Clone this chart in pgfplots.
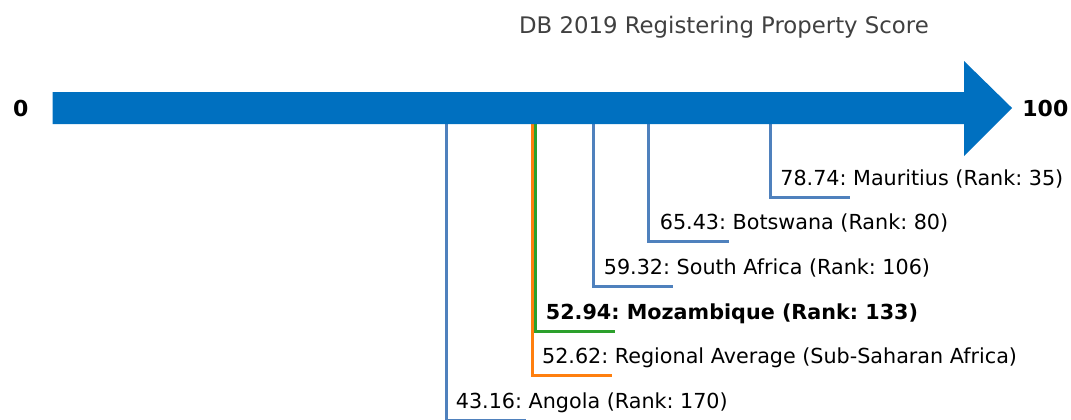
\documentclass[border=0pt]{standalone}
\usepackage{pgfplots}
\pgfplotsset{compat=1.18}
\usepackage{fontspec}
\setmainfont{DejaVu Sans}
\frenchspacing
\definecolor{arrowblue}{RGB}{0,112,192}
\definecolor{stem}{RGB}{79,129,189}
\definecolor{tborange}{RGB}{255,127,14}
\definecolor{tbgreen}{RGB}{44,160,44}
\definecolor{titlegray}{RGB}{64,64,64}
\begin{document}
\begin{tikzpicture}
\begin{axis}[
    % 1 px of the reference = 0.5pt; x in score units, y in -pixels
    scale only axis,
    width  = 535.5pt,
    height = 209.5pt,
    xmin = -5.783, xmax = 111.74,
    ymin = -419,   ymax = 0,
    hide axis,
    every axis plot/.append style = {line join=miter},
]
    % stems: score, bottom of stem
    \addplot[stem, line width=1.5pt] coordinates {(78.74,-108) (78.74,-197) (87.52,-197)};
    \addplot[stem, line width=1.5pt] coordinates {(65.43,-108) (65.43,-241.7) (74.21,-241.7)};
    \addplot[stem, line width=1.5pt] coordinates {(59.32,-108) (59.32,-286.4) (68.10,-286.4)};
    \addplot[tbgreen, line width=1.5pt] coordinates {(52.94,-108) (52.94,-331.1) (61.72,-331.1)};
    \addplot[tborange, line width=1.5pt] coordinates {(52.62,-108) (52.62,-375.8) (61.40,-375.8)};
    \addplot[stem, line width=1.5pt] coordinates {(43.16,-108) (43.16,-420.3) (51.94,-420.3)};

    % arrow 0 -> 100
    \addplot[fill=arrowblue, draw=none] coordinates {
        (0,-92) (100,-92) (100,-61) (105.27,-108) (100,-156) (100,-124) (0,-124)
    } -- cycle;
\end{axis}
% labels in the same frame (origin at lower-left of axis)
\begin{scope}[x=0.5pt, y=0.5pt, shift={(0,419)}]
    \node[anchor=base, text=titlegray, font=\fontsize{11.4}{13}\selectfont, inner sep=0]
        at (724,-33) {DB 2019 Registering Property Score};
    \node[anchor=base, font=\fontsize{11}{13}\bfseries, inner sep=0] at (20.7,-116.5) {0};
    \node[anchor=base west, font=\fontsize{11}{13}\bfseries, inner sep=0] at (1022,-116) {100};
    \begin{scope}[every node/.style={anchor=base west, inner sep=0, font=\fontsize{10.35}{12}\selectfont}]
        \node at (780,-185)   {78.74: Mauritius (Rank: 35)};
        \node at (659.5,-229.7) {65.43: Botswana (Rank: 80)};
        \node at (603.5,-274.4) {59.32: South Africa (Rank: 106)};
        \node[font=\fontsize{10.35}{12}\bfseries] at (545.5,-319.1) {52.94: Mozambique (Rank: 133)};
        \node at (541.7,-363.8) {52.62: Regional Average (Sub-Saharan Africa)};
        \node at (455.5,-408.3) {43.16: Angola (Rank: 170)};
    \end{scope}
\end{scope}
\pgfresetboundingbox
\path[use as bounding box] (0,0) rectangle (535.5pt,209.5pt);
\end{tikzpicture}
\end{document}
